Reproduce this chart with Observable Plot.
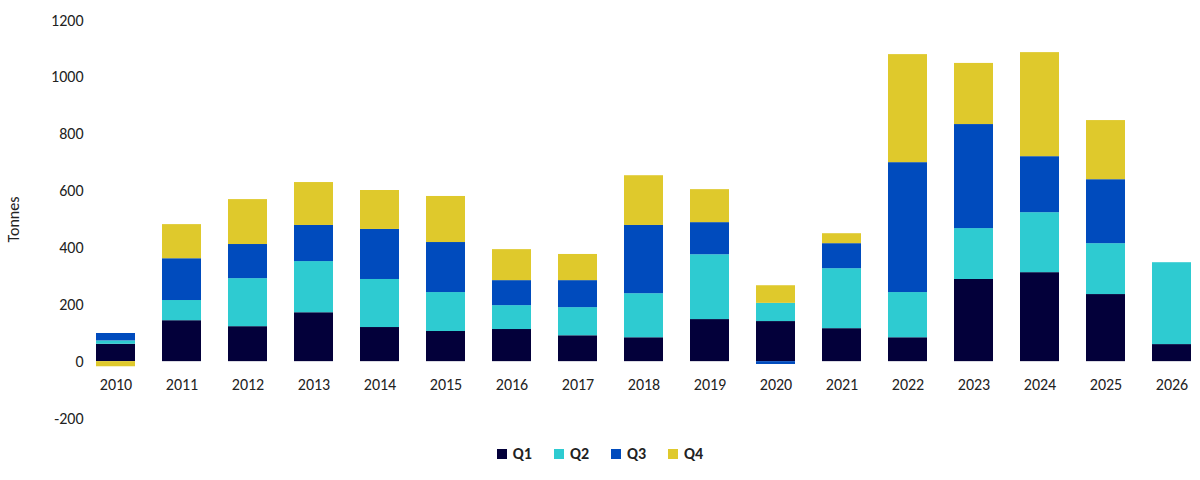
<!DOCTYPE html>
<html><head><meta charset="utf-8">
<script src="https://cdn.jsdelivr.net/npm/d3@7"></script>
<script src="https://cdn.jsdelivr.net/npm/@observablehq/plot@0.6"></script>
<style>
body{margin:0;background:#fff;font-family:Calibri,"Liberation Sans",Arial,sans-serif;}
#legend{display:flex;justify-content:center;gap:22px;font-size:16px;font-weight:bold;color:#222;margin-top:4px}
#legend span{display:inline-flex;align-items:center;gap:6px}
#legend i{display:inline-block;width:10px;height:10px}
</style></head><body>
<div id="chart"></div>
<div id="legend"></div>
<script>
const years = ["2010","2011","2012","2013","2014","2015","2016","2017","2018","2019","2020","2021","2022","2023","2024","2025","2026"];
const quarters = ["Q1","Q2","Q3","Q4"];
const colors = ["#03003a","#2ecbd1","#004bbd","#dfc92c"];
const q1 = [61,144,123,172,120,106,113,91,84,148,141,116,84,289,313,236,60];
const q2 = [12,71,169,180,169,137,84,99,155,228,64,211,159,179,211,179,288];
const q3 = [26,147,120,127,176,176,88,95,240,113,-10,88,457,366,197,225,0];
const q4 = [-18,120,158,151,137,162,109,92,175,116,62,35,380,215,366,208,0];
const yTicks = [-200,0,200,400,600,800,1000,1200];

const series = [q1,q2,q3,q4];
const data = [];
years.forEach((y,i)=>quarters.forEach((q,j)=>data.push({year:y,q,v:series[j][i]})));

const chart = Plot.plot({
  width:1200, height:440, marginTop:20, marginBottom:22, marginLeft:87, marginRight:1,
  style:{fontFamily:"Calibri, 'Liberation Sans', Arial, sans-serif", fontSize:"16px", color:"#222"},
  x:{domain:years, paddingInner:0.41, paddingOuter:0.1, axis:null},
  y:{domain:[-200,1200], ticks:yTicks, tickSize:0, tickPadding:4, tickFormat:d=>String(d), label:"Tonnes", labelAnchor:"center", labelArrow:"none", labelOffset:80},
  color:{domain:quarters, range:colors},
  marks:[
    Plot.barY(data, Plot.stackY({x:"year", y:"v", fill:"q", order:quarters})),
    Plot.text(years, {x:d=>d, y:0, dy:23, text:d=>d, fontSize:16, fill:"#222"})
  ]
});
document.getElementById("chart").appendChild(chart);
document.getElementById("legend").innerHTML = quarters.map((q,i)=>`<span><i style="background:${colors[i]}"></i>${q}</span>`).join("");
</script></body></html>
